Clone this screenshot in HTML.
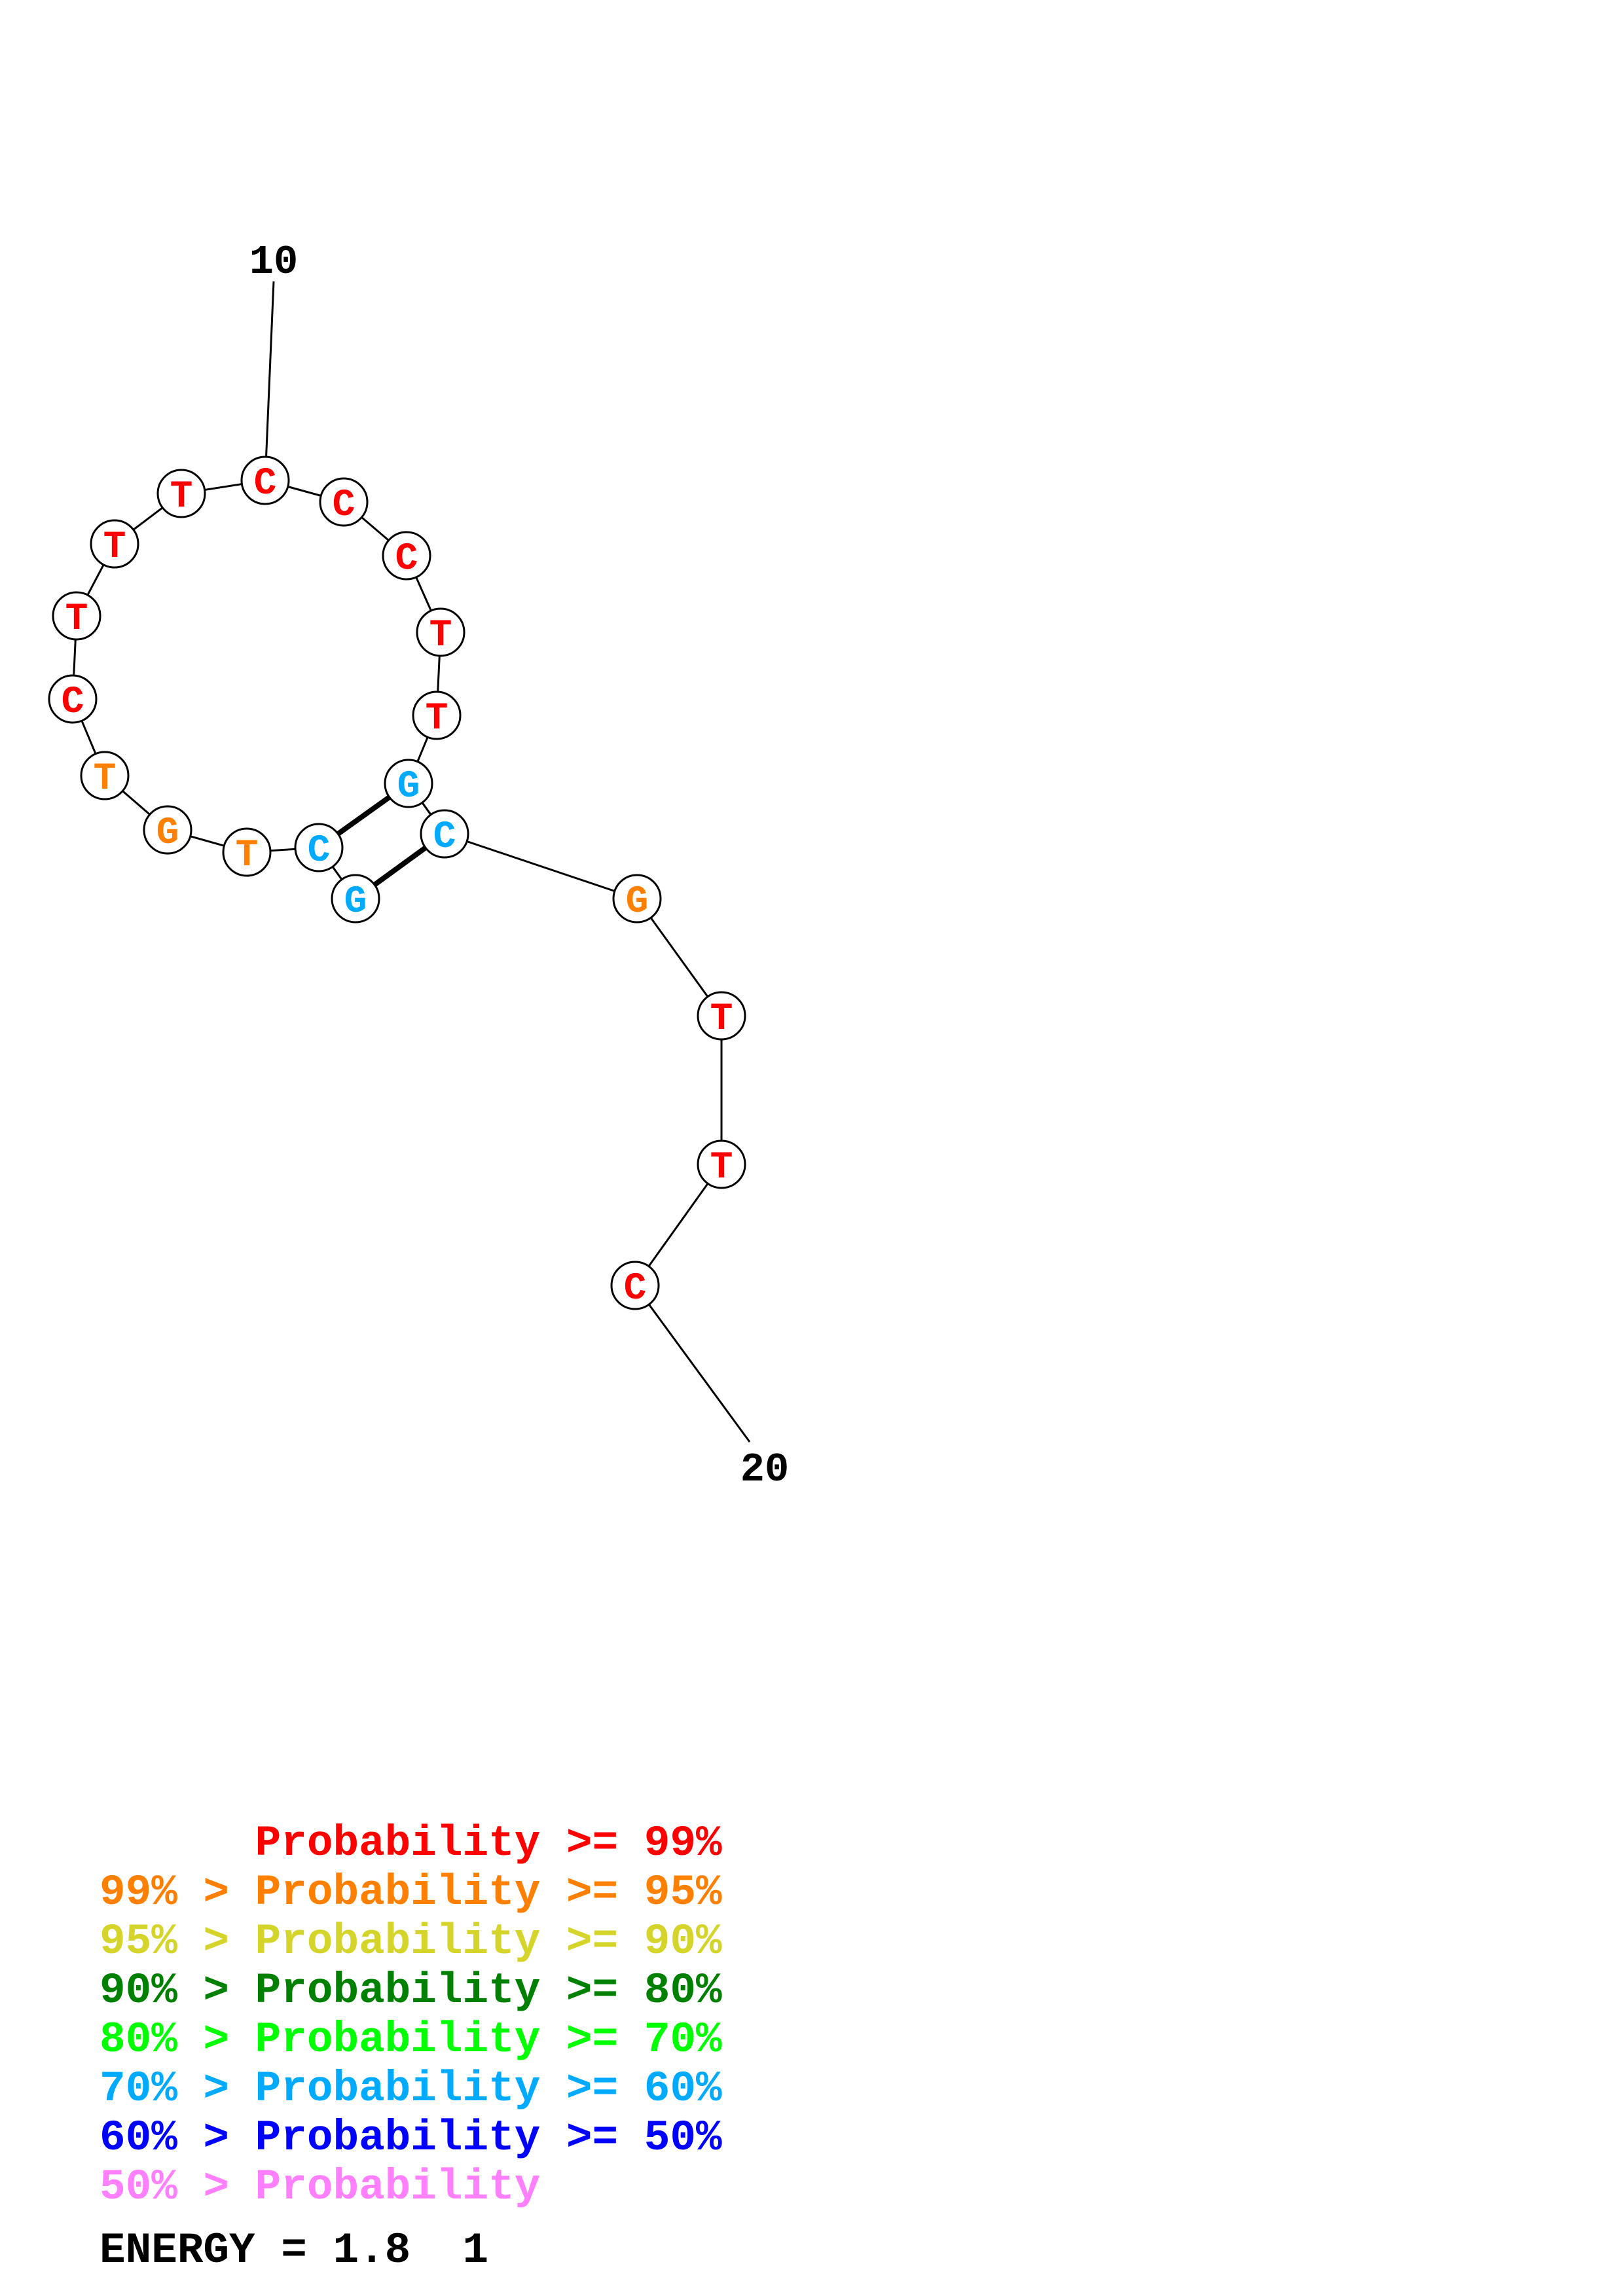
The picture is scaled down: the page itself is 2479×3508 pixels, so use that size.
<!DOCTYPE html>
<html><head><meta charset="utf-8"><style>
html,body{margin:0;padding:0;background:#fff;}
svg{display:block;}
text{font-family:"Liberation Mono",monospace;font-weight:bold;}
.pre{white-space:pre;}
</style></head><body>
<svg width="2479" height="3508" viewBox="0 0 2479 3508" xmlns="http://www.w3.org/2000/svg">
<rect width="2479" height="3508" fill="#fff"/>
<g stroke="#000" stroke-width="3" fill="none">
<line x1="418" y1="430" x2="405" y2="734"/>
<polyline points="405,734 525,767 621,849 673,966 667,1093 624,1197 679,1274 973,1373 1102,1552 1102,1779 970,1964 1145,2203"/>
<polyline points="405,734 277,754 175,831 117,941 111,1068 160,1185 256,1268 377,1302 487,1295 543,1373"/>
<line x1="624" y1="1197" x2="679" y2="1274"/>
</g>
<g stroke="#000" stroke-width="8">
<line x1="487" y1="1295" x2="624" y2="1197"/>
<line x1="543" y1="1373" x2="679" y2="1274"/>
</g>
<g stroke="#000" stroke-width="3" fill="#fff">
<circle cx="405" cy="734" r="36"/><circle cx="525" cy="767" r="36"/><circle cx="621" cy="849" r="36"/>
<circle cx="673" cy="966" r="36"/><circle cx="667" cy="1093" r="36"/><circle cx="624" cy="1197" r="36"/>
<circle cx="679" cy="1274" r="36"/><circle cx="973" cy="1373" r="36"/><circle cx="1102" cy="1552" r="36"/>
<circle cx="1102" cy="1779" r="36"/><circle cx="970" cy="1964" r="36"/>
<circle cx="277" cy="754" r="36"/><circle cx="175" cy="831" r="36"/><circle cx="117" cy="941" r="36"/>
<circle cx="111" cy="1068" r="36"/><circle cx="160" cy="1185" r="36"/><circle cx="256" cy="1268" r="36"/>
<circle cx="377" cy="1302" r="36"/><circle cx="487" cy="1295" r="36"/><circle cx="543" cy="1373" r="36"/>
</g>
<g font-size="58" text-anchor="middle">
<text x="405" y="754" fill="#f00">C</text>
<text x="525" y="787" fill="#f00">C</text>
<text x="621" y="869" fill="#f00">C</text>
<text x="673" y="986" fill="#f00">T</text>
<text x="667" y="1113" fill="#f00">T</text>
<text x="624" y="1217" fill="#00aaff">G</text>
<text x="679" y="1294" fill="#00aaff">C</text>
<text x="973" y="1393" fill="#ff8000">G</text>
<text x="1102" y="1572" fill="#f00">T</text>
<text x="1102" y="1799" fill="#f00">T</text>
<text x="970" y="1984" fill="#f00">C</text>
<text x="277" y="774" fill="#f00">T</text>
<text x="175" y="851" fill="#f00">T</text>
<text x="117" y="961" fill="#f00">T</text>
<text x="111" y="1088" fill="#f00">C</text>
<text x="160" y="1205" fill="#ff8000">T</text>
<text x="256" y="1288" fill="#ff8000">G</text>
<text x="377" y="1322" fill="#ff8000">T</text>
<text x="487" y="1315" fill="#00aaff">C</text>
<text x="543" y="1393" fill="#00aaff">G</text>
</g>
<g font-size="62" text-anchor="middle" fill="#000">
<text x="418" y="417">10</text>
<text x="1168" y="2262">20</text>
</g>
<g font-size="66" class="pre">
<text class="pre" x="152" y="2834" fill="#ff0000">      Probability &gt;= 99%</text>
<text class="pre" x="152" y="2909" fill="#ff8000">99% &gt; Probability &gt;= 95%</text>
<text class="pre" x="152" y="2984" fill="#d4d42a">95% &gt; Probability &gt;= 90%</text>
<text class="pre" x="152" y="3059" fill="#008000">90% &gt; Probability &gt;= 80%</text>
<text class="pre" x="152" y="3134" fill="#00ff00">80% &gt; Probability &gt;= 70%</text>
<text class="pre" x="152" y="3209" fill="#00aaff">70% &gt; Probability &gt;= 60%</text>
<text class="pre" x="152" y="3284" fill="#0000ff">60% &gt; Probability &gt;= 50%</text>
<text class="pre" x="152" y="3359" fill="#ff80ff">50% &gt; Probability</text>
<text class="pre" x="152" y="3456" fill="#000">ENERGY = 1.8  1</text>
</g>
</svg>
</body></html>
